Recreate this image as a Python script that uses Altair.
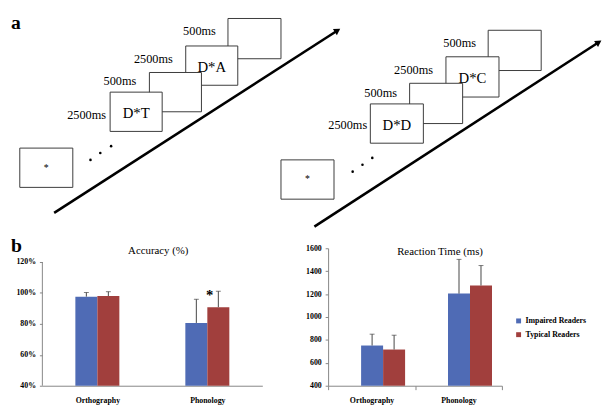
import altair as alt
import pandas as pd

FONT = "Liberation Serif"
BLUE = "#4F6BB5"
RED = "#A13F3D"
AXC = "#868686"
ERRC = "#444444"

# ---------------- Panel a: trial schematic (positions, in page pixels)
box_x0 = [229, 186, 149, 109, 494, 451, 414, 374]
box_x1 = [283, 239, 202, 162, 548, 505, 468, 428]
box_y0 = [15, 43, 70, 90, 27, 54, 81, 102]
box_y1 = [56, 83, 110, 130, 68, 95, 122, 142]
box_text = ["", "D*A", "", "D*T", "", "D*C", "", "D*D"]
box_depth = ["far", "far", "near", "near", "far", "far", "near", "near"]

fix_x0 = [17, 283]
fix_x1 = [71, 337]
fix_y0 = [147, 159]
fix_y1 = [187, 199]

dot_x = [89, 99, 110, 356, 366, 376]
dot_y = [159, 152, 145, 171, 164, 157]

dur_text = ["2500ms", "500ms", "2500ms", "500ms", "2500ms", "500ms", "2500ms", "500ms"]
dur_x = [85, 119, 153, 200, 351, 384.5, 418, 465]
dur_y = [113, 79, 56, 28, 124, 91, 68, 40]

arrow_x0 = [52, 317]
arrow_y0 = [213, 227]
arrow_x1 = [340.6, 606.6]
arrow_y1 = [27.2, 39.2]
arrow_angle = [57.2, 57.0]

panel_letters = ["a", "b"]
letter_x = [8, 8]
letter_y = [26, 253]

# ---------------- Panel b: bar charts
tasks = ["Orthography", "Phonology"]
groups = ["Impaired Readers", "Typical Readers"]
acc_impaired = [97.6, 80.6]
acc_typical = [98.0, 90.8]
acc_impaired_err = [2.7, 15.3]
acc_typical_err = [2.8, 10.3]
rt_impaired = [751, 1204]
rt_typical = [716, 1275]
rt_impaired_err = [99, 299]
rt_typical_err = [125, 174]
sig_task = ["Phonology"]
sig_label = ["*"]
sig_y = [95.7]

acc_ticks = [40, 60, 80, 100, 120]
rt_ticks = [400, 600, 800, 1000, 1200, 1400, 1600]
offset_domain = ["_gap_left"] + groups + ["_gap_right"]

TOP_W, TOP_H = 606, 241
OX, OY = 8, 8

boxes = pd.DataFrame({"x0": box_x0, "x1": box_x1, "y0": box_y0, "y1": box_y1,
                      "label": box_text, "depth": box_depth})
fix = pd.DataFrame({"x0": fix_x0, "x1": fix_x1, "y0": fix_y0, "y1": fix_y1})
dots = pd.DataFrame({"x": dot_x, "y": dot_y})
durs = pd.DataFrame({"x": dur_x, "y": dur_y, "t": dur_text})
arrows = pd.DataFrame({"x0": arrow_x0, "y0": arrow_y0, "x1": arrow_x1, "y1": arrow_y1, "ang": arrow_angle})
letters = pd.DataFrame({"x": letter_x, "y": letter_y, "t": panel_letters})

xs = alt.Scale(domain=[OX, OX + TOP_W], nice=False, zero=False)
ys = alt.Scale(domain=[OY, OY + TOP_H], nice=False, zero=False, reverse=True)


def X(f):
    return alt.X(f, type="quantitative", scale=xs, axis=None)


def Y(f):
    return alt.Y(f, type="quantitative", scale=ys, axis=None)


arrow_lines = alt.Chart(arrows).mark_rule(color="black", strokeWidth=2.6).encode(
    x=X("x0"), y=Y("y0"), x2="x1", y2="y1")
arrow_heads = alt.Chart(arrows).mark_point(shape="triangle-up", filled=True, size=55,
                                           color="black", opacity=1).encode(
    x=X("x1"), y=Y("y1"), angle=alt.Angle("ang:Q", scale=None))


def box_layer(depth):
    return alt.Chart(boxes).transform_filter(alt.datum.depth == depth).mark_rect(
        fill="white", stroke="#3a3a3a", strokeWidth=1).encode(
        x=X("x0"), x2="x1", y=Y("y0"), y2="y1")


def box_text_layer(depth):
    return alt.Chart(boxes).transform_filter(
        (alt.datum.depth == depth) & (alt.datum.label != "")).transform_calculate(
        xm="(datum.x0 + datum.x1) / 2", ym="(datum.y0 + datum.y1) / 2 + 1.5").mark_text(
        font=FONT, fontSize=15, color="black", baseline="middle").encode(
        x=X("xm"), y=Y("ym"), text="label:N")


fix_boxes = alt.Chart(fix).mark_rect(fill="white", stroke="#3a3a3a", strokeWidth=1).encode(
    x=X("x0"), x2="x1", y=Y("y0"), y2="y1")
fix_star = alt.Chart(fix).transform_calculate(
    xm="(datum.x0 + datum.x1) / 2", ym="(datum.y0 + datum.y1) / 2", s="'*'").mark_text(
    font=FONT, fontSize=10, color="black", baseline="middle").encode(
    x=X("xm"), y=Y("ym"), text="s:N")
dot_marks = alt.Chart(dots).mark_circle(size=7, color="black", opacity=1).encode(
    x=X("x"), y=Y("y"))
dur_marks = alt.Chart(durs).mark_text(font=FONT, fontSize=12.5, color="black",
                                      baseline="middle").encode(
    x=X("x"), y=Y("y"), text="t:N")
letter_marks = alt.Chart(letters).mark_text(font=FONT, fontSize=20, fontWeight="bold",
                                            color="black", align="left",
                                            baseline="alphabetic").encode(
    x=X("x"), y=Y("y"), text="t:N")

top = alt.layer(
    arrow_lines, arrow_heads,
    box_layer("far"), box_text_layer("far"),
    box_layer("near"), box_text_layer("near"),
    fix_boxes, fix_star, dot_marks, dur_marks, letter_marks,
).properties(width=TOP_W, height=TOP_H)

# ---------------- bar chart helpers
H = 140


def bar_df(imp, typ, imp_e, typ_e):
    rows = []
    for i, t in enumerate(tasks):
        rows.append({"task": t, "group": groups[0], "mean": imp[i], "err": imp_e[i]})
        rows.append({"task": t, "group": groups[1], "mean": typ[i], "err": typ_e[i]})
    return pd.DataFrame(rows)


acc_df = bar_df(acc_impaired, acc_typical, acc_impaired_err, acc_typical_err)
rt_df = bar_df(rt_impaired, rt_typical, rt_impaired_err, rt_typical_err)


def x_enc(ticks):
    ax = alt.Axis(title=None, labelAngle=0, labelFont=FONT, labelFontWeight="bold",
                  labelFontSize=8, labelColor="black", domainColor=AXC,
                  labelPadding=11 if not ticks else 7, ticks=ticks, tickColor=AXC, tickSize=4,
                  tickBand="extent")
    return alt.X("task:N", sort=tasks, scale=alt.Scale(paddingInner=0, paddingOuter=0), axis=ax)


xoff = alt.XOffset("group:N", scale=alt.Scale(domain=offset_domain, paddingInner=0,
                                              paddingOuter=0.5))


def bar_chart(df, ydom, yticks, ylabel_expr, base, ticks, legend, title, title_x, title_y,
              draw_domain_rule):
    yscale = alt.Scale(domain=ydom, nice=False, zero=False)
    yaxis = alt.Axis(title=None, values=yticks, labelExpr=ylabel_expr,
                     domain=not draw_domain_rule)

    def yq(field):
        return alt.Y(field, type="quantitative", scale=yscale, axis=yaxis)

    c = alt.Chart(df)
    color = alt.Color("group:N", scale=alt.Scale(domain=groups, range=[BLUE, RED]),
                      legend=legend)
    bars = c.mark_bar().encode(
        x=x_enc(ticks), xOffset=xoff, y=yq("mean"), y2=alt.datum(base), color=color)
    err = c.transform_calculate(hi="datum.mean + datum.err").mark_rule(
        color=ERRC, strokeWidth=1).encode(
        x=x_enc(ticks), xOffset=xoff, y=yq("mean"), y2="hi:Q")
    cap = c.transform_calculate(hi="datum.mean + datum.err").mark_tick(
        color=ERRC, size=5, thickness=1, orient="horizontal").encode(
        x=x_enc(ticks), xOffset=xoff, y=yq("hi"))
    ttl = alt.Chart(pd.DataFrame({"t": [title]})).mark_text(
        font=FONT, fontSize=11, color="black", baseline="middle").encode(
        text="t:N", x=alt.value(title_x), y=alt.value(title_y))
    layers = [bars, err, cap, ttl]
    if draw_domain_rule:
        layers.append(alt.Chart(pd.DataFrame({"v": [yticks[0]], "w": [yticks[-1]]})).mark_rule(
            color=AXC).encode(x=alt.value(0), y=yq("v"), y2="w:Q"))
    return layers, yq


acc_layers, acc_yq = bar_chart(acc_df, [40, 40 + H / 1.575], acc_ticks, "datum.value + '%'", 40,
                               False, None, "Accuracy (%)", 118, 2.5, True)
sig = alt.Chart(pd.DataFrame({"task": sig_task, "t": sig_label, "y": sig_y})).mark_text(
    font=FONT, fontSize=15, fontWeight="bold", color="black", baseline="alphabetic", dx=2.5).encode(
    x=x_enc(False), y=acc_yq("y"), text="t:N")
acc = alt.layer(*acc_layers, sig).properties(width=224, height=H)

rt_legend = alt.Legend(orient="none", legendX=190, legendY=70, title=None, symbolType="square",
                       symbolSize=25, symbolStrokeWidth=0, labelFont=FONT,
                       labelFontWeight="bold", labelFontSize=8, labelColor="black",
                       labelOffset=3, rowPadding=6, padding=0)
rt_layers, _ = bar_chart(rt_df, [400, 1600], rt_ticks, "format(datum.value, 'd')", 400,
                         True, rt_legend, "Reaction Time (ms)", 114, 4, False)
rt = alt.layer(*rt_layers).properties(width=177, height=H)


def spacer(w):
    return alt.Chart(pd.DataFrame({"v": [0]})).mark_point(opacity=0).encode(
        x=alt.value(0), y=alt.value(0)).properties(width=w, height=H)


bottom = alt.hconcat(spacer(32), acc, spacer(67), rt, spacing=0, bounds="flush").resolve_scale(
    color="independent")

chart = alt.vconcat(top, bottom, spacing=0, bounds="flush").properties(
    padding=0, background="white").configure_view(stroke=None).configure_axisY(
    labelFont=FONT, labelFontWeight="bold", labelFontSize=8, labelColor="black",
    labelOverlap=False, labelBound=False, labelFlush=False, domainColor=AXC,
    tickColor=AXC, tickSize=3, labelPadding=4, grid=False)

chart.save("out.html", embed_options={"renderer": "svg", "actions": False})
